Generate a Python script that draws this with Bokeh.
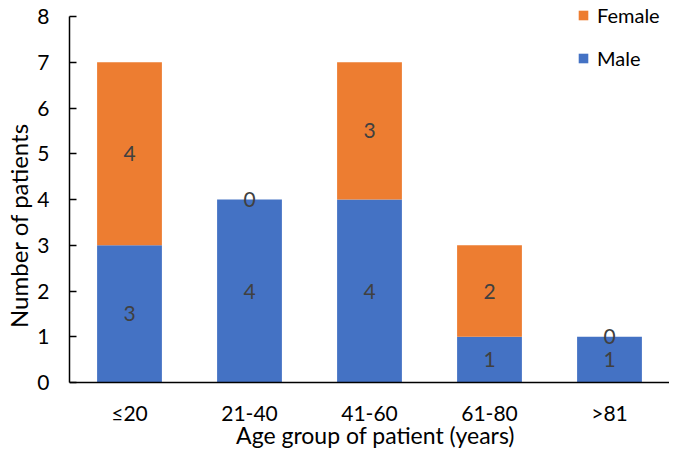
from bokeh.plotting import figure
from bokeh.models import ColumnDataSource, LabelSet, Legend, LegendItem, Label, Range1d
from bokeh.core.properties import value
from bokeh.embed import file_html
from bokeh.resources import INLINE

categories = ["≤20", "21-40", "41-60", "61-80", ">81"]
male = [3, 4, 4, 1, 1]
female = [4, 0, 3, 2, 0]
y_ticks = [0, 1, 2, 3, 4, 5, 6, 7, 8]
x_title = "Age group of patient (years)"
y_title = "Number of patients"

FONT = "Lato"
BLUE = "#4472C4"
ORANGE = "#ED7D31"

male_top = list(male)
female_top = [m + f for m, f in zip(male, female)]
male_mid = [m / 2 for m in male]
female_mid = [m + f / 2 for m, f in zip(male, female)]

src = ColumnDataSource(dict(
    cat=categories, male=male, female=female,
    male_top=male_top, female_top=female_top,
    male_mid=male_mid, female_mid=female_mid,
    male_txt=[str(v) for v in male], female_txt=[str(v) for v in female],
    zero=[0] * len(male),
))

W, H = 669, 450
LEFT = 69
p = figure(x_range=categories, y_range=Range1d(-1.486, 8.35), width=W, height=H,
           output_backend="svg", toolbar_location=None,
           min_border_left=LEFT, min_border_right=0, min_border_top=0, min_border_bottom=0)

r_m = p.vbar(x="cat", bottom="zero", top="male_top", width=0.54, source=src,
             fill_color=BLUE, line_color=None)
r_f = p.vbar(x="cat", bottom="male_top", top="female_top", width=0.54, source=src,
             fill_color=ORANGE, line_color=None)

for ycol, tcol in (("male_mid", "male_txt"), ("female_mid", "female_txt")):
    p.add_layout(LabelSet(x="cat", y=ycol, text=tcol, source=src,
                          text_align="center", text_baseline="middle",
                          text_color="#404040", text_font=value(FONT),
                          text_font_size="21px"))

p.xgrid.grid_line_color = None
p.ygrid.grid_line_color = None
p.outline_line_color = None
p.background_fill_color = "white"
p.border_fill_color = "white"

p.yaxis.ticker = y_ticks
p.yaxis.bounds = (0, 8)
p.yaxis.major_tick_in = 7
p.yaxis.major_tick_out = 0
p.yaxis.major_tick_line_color = "black"
p.yaxis.major_tick_line_width = 1.5
p.yaxis.minor_tick_line_color = None
p.yaxis.major_label_standoff = 20
p.yaxis.axis_label = y_title
p.yaxis.axis_label_standoff = 1
p.yaxis.axis_label_text_font_size = "24px"

p.xaxis.fixed_location = 0
p.xaxis.major_tick_line_color = None
p.xaxis.major_tick_in = 0
p.xaxis.major_tick_out = 0
p.xaxis.major_label_standoff = 17

for ax in (p.xaxis, p.yaxis):
    ax.axis_line_color = "black"
    ax.axis_line_width = 1.5
    ax.major_label_text_font = FONT
    ax.major_label_text_font_size = "21px"
    ax.major_label_text_color = "black"
    ax.axis_label_text_font = FONT
    ax.axis_label_text_font_style = "normal"
    ax.axis_label_text_color = "black"

p.add_layout(Label(x=306, y=16, x_units="screen", y_units="screen", text=x_title,
                   text_align="center", text_baseline="middle",
                   text_font=FONT, text_font_size="23px", text_color="black"))

legend = Legend(items=[LegendItem(label="Female", renderers=[r_f]),
                       LegendItem(label="Male", renderers=[r_m])],
                location=(508, 380), orientation="vertical",
                glyph_width=12, glyph_height=12, label_height=24, spacing=19,
                label_standoff=8, padding=0, margin=0,
                border_line_color=None, background_fill_alpha=0,
                label_text_font=FONT, label_text_font_size="20px",
                label_text_color="black")
p.add_layout(legend)

open("out.html", "w").write(file_html(p, INLINE))
